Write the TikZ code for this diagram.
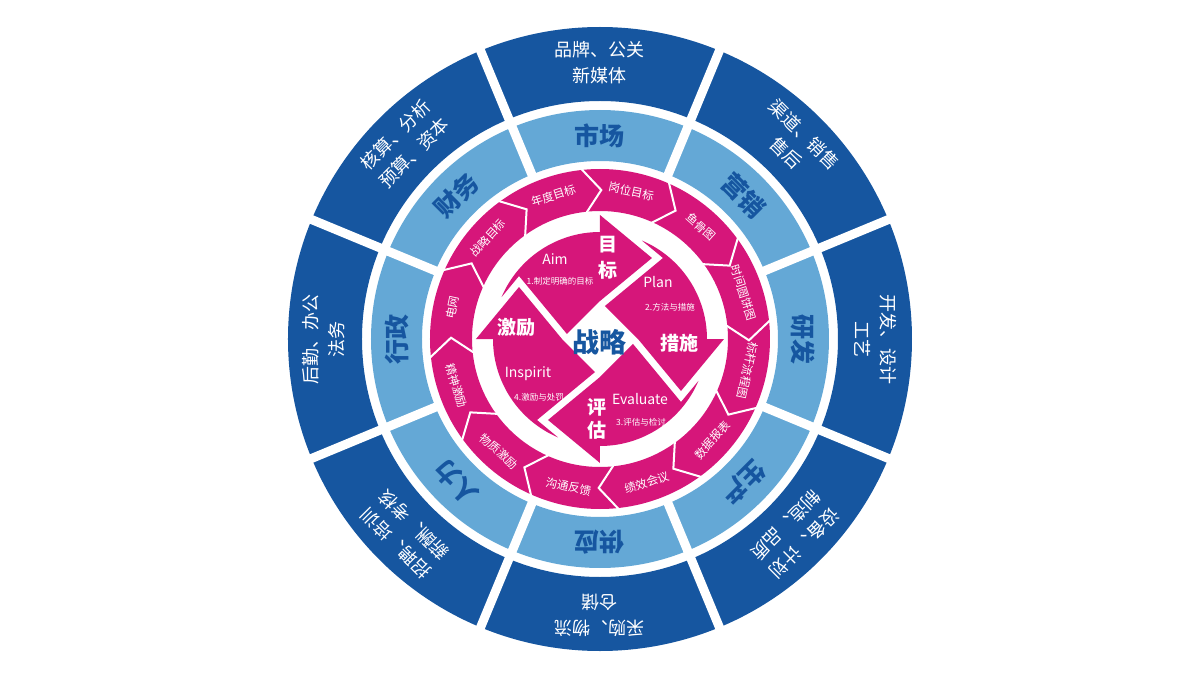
\documentclass[tikz,border=0pt]{standalone}
\usepackage{fontspec}
\setmainfont{Noto Sans CJK SC}
\definecolor{dblue}{RGB}{22,86,160}
\definecolor{lblue}{RGB}{100,168,214}
\definecolor{mag}{RGB}{214,22,122}
\begin{document}
\begin{tikzpicture}[x=1pt,y=1pt,
  outerlbl/.style={text=white,align=center,font=\fontsize{18}{26}\selectfont,inner sep=0pt},
  ringlbl/.style={text=dblue,font=\fontsize{25}{28}\selectfont\bfseries,inner sep=0pt},
  chevlbl/.style={text=white,font=\fontsize{11.5}{13}\selectfont,inner sep=0pt},
  biglbl/.style={text=white,font=\fontsize{19}{21}\selectfont\bfseries,inner sep=0pt},
  enlbl/.style={text=white,font=\fontsize{14}{16}\selectfont,inner sep=0pt},
  smlbl/.style={text=white,font=\fontsize{8.5}{10}\selectfont,inner sep=0pt},
  gapline/.style={white,line width=9pt},
  chevline/.style={white,line width=2pt,line join=miter}]
\useasboundingbox (-600,-336) rectangle (600,339);
% outer rings
\fill[dblue,even odd rule] (0,0) circle[radius=312pt] (0,0) circle[radius=238pt];
\fill[lblue,even odd rule] (0,0) circle[radius=229pt] (0,0) circle[radius=178pt];
\foreach \a in {22.5,67.5,...,337.5}
  \draw[gapline] (\a:172pt) -- (\a:320pt);
% chevron ring
\fill[mag,even odd rule] (0,0) circle[radius=170pt] (0,0) circle[radius=128pt];
\foreach \k in {0,...,11}{
  \pgfmathsetmacro\a{96.5-30*\k}
  \draw[chevline] (\a:126pt) -- ({\a-7}:149pt) -- (\a:172pt);
}
% central cycle arrows
\foreach \r in {0,-90,-180,-270}{
  \begin{scope}[rotate=\r]
  \fill[mag] (-33.03,4.97) -- (0,38) -- (52,81) -- (0,124) -- (0,107)
     arc[start angle=90,end angle=156.97,radius=107pt] -- (-81,62.99) -- cycle;
  \end{scope}
}
% light ring labels
\node[ringlbl] (L1) at (90:203pt) {市场};
\node[ringlbl,rotate=-45] (L2) at (45:203pt) {营销};
\node[ringlbl,rotate=-90] (L3) at (0:203pt) {研发};
\node[ringlbl,rotate=-135] (L4) at (-45:203pt) {生产};
\node[ringlbl,rotate=180] (L5) at (-90:203pt) {供应};
\node[ringlbl,rotate=135] (L6) at (-135:203pt) {人力};
\node[ringlbl,rotate=90] (L7) at (180:203pt) {行政};
\node[ringlbl,rotate=45] (L8) at (135:203pt) {财务};
% outer ring labels
\node[outerlbl] (O1) at (90:276pt) {品牌、公关\\新媒体};
\node[outerlbl,rotate=-45] (O2) at (45:276pt) {渠道、销售\\售后};
\node[outerlbl,rotate=-90] (O3) at (0:276pt) {开发、设计\\工艺};
\node[outerlbl,rotate=-135] (O4) at (-45:276pt) {设备、计划\\制造、品质};
\node[outerlbl,rotate=180] (O5) at (-90:276pt) {采购、物流\\仓储};
\node[outerlbl,rotate=135] (O6) at (-135:276pt) {招聘、培训\\薪酬、考核};
\node[outerlbl,rotate=90] (O7) at (180:276pt) {后勤、办公\\法务};
\node[outerlbl,rotate=45] (O8) at (135:276pt) {核算、分析\\预算、资本};
% chevron labels
\node[chevlbl,rotate=-12] (C1) at (78:151pt) {岗位目标};
\node[chevlbl,rotate=-42] (C2) at (48:151pt) {鱼骨图};
\node[chevlbl,rotate=-72] (C3) at (18:151pt) {时间圆饼图};
\node[chevlbl,rotate=-102] (C4) at (-12:151pt) {标杆流程图};
\node[chevlbl,rotate=48] (C5) at (-42:151pt) {数据报表};
\node[chevlbl,rotate=18] (C6) at (-72:151pt) {绩效会议};
\node[chevlbl,rotate=-12] (C7) at (-102:151pt) {沟通反馈};
\node[chevlbl,rotate=-42] (C8) at (-132:151pt) {物质激励};
\node[chevlbl,rotate=-72] (C9) at (-162:151pt) {精神激励};
\node[chevlbl,rotate=78] (C10) at (168:151pt) {电网};
\node[chevlbl,rotate=48] (C11) at (138:151pt) {战略目标};
\node[chevlbl,rotate=18] (C12) at (108:151pt) {年度目标};
% center labels
\node[text=dblue,font=\fontsize{27}{30}\selectfont\bfseries,inner sep=0pt] (S) at (0,-3) {战略};
\node[biglbl] (M1) at (8,94) {目};
\node[biglbl] (M2) at (8,69) {标};
\node[biglbl] (P) at (80,-4) {措施};
\node[biglbl] (E1) at (-3,-68) {评};
\node[biglbl] (E2) at (-3,-91) {估};
\node[biglbl] (I) at (-83,12) {激励};
\node[enlbl] (A1) at (-45,80) {Aim};
\node[smlbl] (A2) at (-40,58) {1.制定明确的目标};
\node[enlbl] (P1) at (58,57) {Plan};
\node[smlbl] (P2) at (70,32) {2.方法与措施};
\node[enlbl] (I1) at (-72,-35) {Inspirit};
\node[smlbl] (I2) at (-61,-58) {4.激励与处罚};
\node[enlbl] (V1) at (40,-60) {Evaluate};
\node[smlbl] (V2) at (41,-83) {3.评估与检讨};
\end{tikzpicture}
\end{document}
